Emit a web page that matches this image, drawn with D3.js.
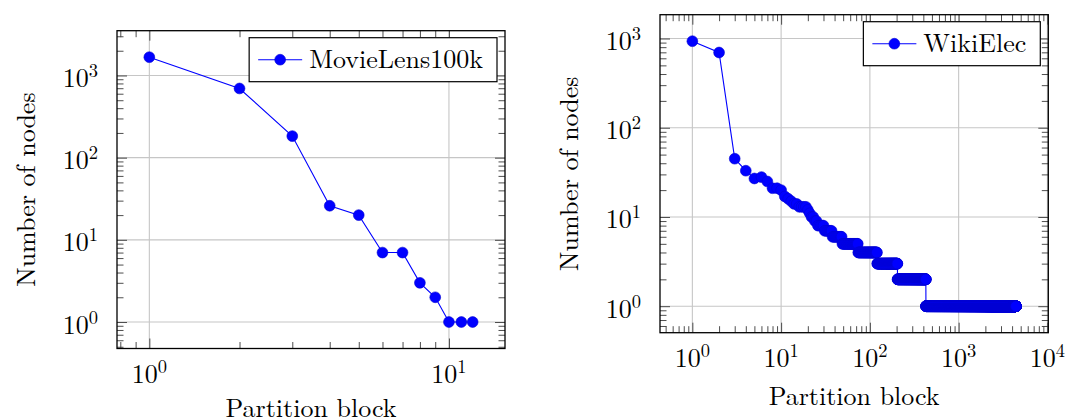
<!DOCTYPE html>
<html>
<head>
<meta charset="utf-8">
<script src="https://cdn.jsdelivr.net/npm/d3@7/dist/d3.min.js"></script>
<style>
  html, body { margin: 0; padding: 0; background: #fff; }
  svg { display: block; }
</style>
</head>
<body>
<svg id="chart" width="1068" height="419"></svg>
<script>
// ---- MovieLens100k: nodes per partition block ----
const movieBlocks = [1, 2, 3, 4, 5, 6, 7, 8, 9, 10, 11, 12];
const movieNodes  = [1670, 695, 183, 26, 20, 7, 7, 3, 2, 1, 1, 1];

// ---- WikiElec: nodes per partition block ----
// first blocks listed one by one, the long tail stored as runs (size, number of blocks)
const wikiHeadNodes = [933, 697, 45, 33, 27, 28, 25, 21, 21, 20, 17, 16, 15, 14, 14,
                       13, 13, 13, 13, 12, 11, 10, 10, 9, 9];
const wikiRunSizes  = [8, 7, 6, 5, 4, 3, 2, 1];
const wikiRunCounts = [5, 7, 11, 25, 47, 84, 223, 3993];

const xTitle = "Partition block";
const yTitle = "Number of nodes";

// expand the run-length tail into one value per block
const wikiNodes = wikiHeadNodes.slice();
wikiRunSizes.forEach((s, i) => { for (let k = 0; k < wikiRunCounts[i]; k++) wikiNodes.push(s); });
const wikiBlocks = wikiNodes.map((_, i) => i + 1);

const svg = d3.select("#chart");
const BLUE = "#0000ff";
const FONT = "Latin Modern Roman";

// log domain padded by 10% of the data span on each side
function paddedLogDomain(vals) {
  const lo = Math.log10(d3.min(vals)), hi = Math.log10(d3.max(vals));
  const pad = 0.1 * (hi - lo);
  return [Math.pow(10, lo - pad), Math.pow(10, hi + pad)];
}

function logTicks(domain) {
  const major = [], minor = [];
  const d0 = Math.floor(Math.log10(domain[0])), d1 = Math.ceil(Math.log10(domain[1]));
  for (let d = d0; d <= d1; d++) {
    for (let k = 1; k <= 9; k++) {
      const v = k * Math.pow(10, d);
      if (v < domain[0] * 0.9999 || v > domain[1] * 1.0001) continue;
      (k === 1 ? major : minor).push(v);
    }
  }
  return { major, minor };
}

function powerLabel(sel, exp) {
  sel.append("tspan").text("10");
  sel.append("tspan").attr("dy", -10).attr("font-size", 18.5).text(exp);
}

function txt(sel) { return sel.append("text").attr("font-family", FONT).attr("fill", "#000"); }

function panel(opt) {
  const { x0, x1, y0, y1 } = opt.frame;
  const xs = d3.scaleLog().domain(paddedLogDomain(opt.xs)).range([x0, x1]);
  const ys = d3.scaleLog().domain(paddedLogDomain(opt.ys)).range([y1, y0]);
  const g = svg.append("g");

  const xt = logTicks(xs.domain()), yt = logTicks(ys.domain());

  // major grid
  const grid = g.append("g").attr("stroke", "#c6c6c6").attr("stroke-width", 1.1);
  grid.selectAll("line.gx").data(xt.major).join("line")
    .attr("x1", d => xs(d)).attr("x2", d => xs(d)).attr("y1", y0).attr("y2", y1);
  grid.selectAll("line.gy").data(yt.major).join("line")
    .attr("y1", d => ys(d)).attr("y2", d => ys(d)).attr("x1", x0).attr("x2", x1);

  // inward ticks on all four sides
  const MAJ = 10, MIN = 6.5;
  const tickAxis = (axisFn, scale, values, len, transform) => {
    const a = g.append("g").attr("transform", transform)
      .call(axisFn(scale).tickValues(values).tickSize(len).tickFormat(""));
    a.select(".domain").remove();
    a.selectAll(".tick line").attr("stroke", "#3a3a3a").attr("stroke-width", 0.9);
  };
  tickAxis(d3.axisBottom, xs, xt.major, -MAJ, `translate(0,${y1})`);
  tickAxis(d3.axisBottom, xs, xt.minor, -MIN, `translate(0,${y1})`);
  tickAxis(d3.axisTop, xs, xt.major, -MAJ, `translate(0,${y0})`);
  tickAxis(d3.axisTop, xs, xt.minor, -MIN, `translate(0,${y0})`);
  tickAxis(d3.axisLeft, ys, yt.major, -MAJ, `translate(${x0},0)`);
  tickAxis(d3.axisLeft, ys, yt.minor, -MIN, `translate(${x0},0)`);
  tickAxis(d3.axisRight, ys, yt.major, -MAJ, `translate(${x1},0)`);
  tickAxis(d3.axisRight, ys, yt.minor, -MIN, `translate(${x1},0)`);

  // tick labels
  xt.major.forEach(v => {
    txt(g).attr("x", xs(v)).attr("y", y1 + 34).attr("text-anchor", "middle")
      .attr("font-size", 26).call(powerLabel, Math.round(Math.log10(v)));
  });
  yt.major.forEach(v => {
    txt(g).attr("x", x0 - 19).attr("y", ys(v) + 11.5).attr("text-anchor", "end")
      .attr("font-size", 26).call(powerLabel, Math.round(Math.log10(v)));
  });

  // series
  const pts = opt.xs.map((x, i) => [x, opt.ys[i]]);
  g.append("path").datum(pts)
    .attr("fill", "none").attr("stroke", BLUE).attr("stroke-width", 1.1)
    .attr("d", d3.line().x(d => xs(d[0])).y(d => ys(d[1])));
  g.append("g").selectAll("circle").data(pts).join("circle")
    .attr("cx", d => xs(d[0])).attr("cy", d => ys(d[1])).attr("r", 5.4)
    .attr("fill", BLUE).attr("stroke", "#0000d4").attr("stroke-width", 0.6);

  // frame
  g.append("rect").attr("x", x0).attr("y", y0).attr("width", x1 - x0).attr("height", y1 - y0)
    .attr("fill", "none").attr("stroke", "#000").attr("stroke-width", 1.3);

  // axis titles
  txt(g).attr("x", (x0 + x1) / 2).attr("y", Math.min(y1 + 72.5, 417)).attr("text-anchor", "middle")
    .attr("font-size", 26).text(xTitle);
  txt(g).attr("transform", `translate(${x0 - 82.5},${(y0 + y1) / 2}) rotate(-90)`)
    .attr("text-anchor", "middle").attr("font-size", 26).text(yTitle);

  // legend
  const lg = opt.legend;
  const lgY = y0 + 7;
  const lb = g.append("g");
  const rect = lb.append("rect").attr("y", lgY).attr("height", 44)
    .attr("fill", "#fff").attr("stroke", "#000").attr("stroke-width", 1.2);
  const label = txt(lb).attr("y", lgY + 30).attr("font-size", 26).text(lg.name);
  const tw = label.node().getComputedTextLength();
  const bw = 60 + tw + 14;
  const bx = x1 - 8 - bw;
  rect.attr("x", bx).attr("width", bw);
  label.attr("x", bx + 60);
  lb.append("line").attr("x1", bx + 9).attr("x2", bx + 53).attr("y1", lgY + 22).attr("y2", lgY + 22)
    .attr("stroke", BLUE).attr("stroke-width", 1.1);
  lb.append("circle").attr("cx", bx + 31).attr("cy", lgY + 22).attr("r", 5.4)
    .attr("fill", BLUE).attr("stroke", "#0000d4").attr("stroke-width", 0.6);
}

panel({
  frame: { x0: 117, x1: 505, y0: 30.7, y1: 348.5 },
  xs: movieBlocks, ys: movieNodes,
  legend: { name: "MovieLens100k" }
});
panel({
  frame: { x0: 660, x1: 1048.3, y0: 14.7, y1: 332.7 },
  xs: wikiBlocks, ys: wikiNodes,
  legend: { name: "WikiElec" }
});
</script>
</body>
</html>
